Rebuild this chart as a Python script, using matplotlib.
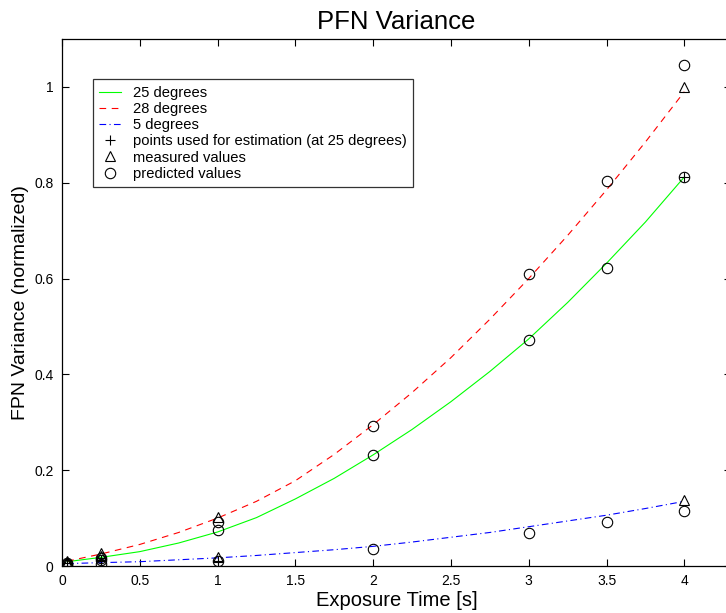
import matplotlib
matplotlib.use("Agg")
import matplotlib.pyplot as plt

plt.rcParams['font.family'] = ['Liberation Sans', 'DejaVu Sans']

# curve samples
curve_x = [0.033, 0.25, 0.5, 0.75, 1.0, 1.25, 1.5, 1.75, 2.0, 2.25, 2.5, 2.75, 3.0, 3.25, 3.5, 3.75, 4.0]
curve_25 = [0.009, 0.018, 0.030, 0.048, 0.071, 0.101, 0.140, 0.183, 0.232, 0.285, 0.343, 0.406, 0.474, 0.550, 0.632, 0.718, 0.812]
curve_28 = [0.010, 0.025, 0.045, 0.070, 0.100, 0.135, 0.178, 0.233, 0.295, 0.362, 0.435, 0.515, 0.600, 0.690, 0.785, 0.885, 0.990]
curve_5 = [0.005, 0.007, 0.009, 0.013, 0.017, 0.022, 0.028, 0.034, 0.041, 0.050, 0.060, 0.070, 0.082, 0.094, 0.106, 0.120, 0.135]

# estimation points (plus)
est_x = [0.033, 0.25, 1.0, 4.0]
est_y = [0.006, 0.012, 0.011, 0.812]

# measured values (triangles)
meas28_x = [0.033, 0.25, 1.0, 4.0]
meas28_y = [0.010, 0.027, 0.103, 1.000]
meas5_x = [0.033, 0.25, 1.0, 4.0]
meas5_y = [0.006, 0.020, 0.018, 0.138]

# predicted values (circles)
pred_x = [0.033, 0.25, 1.0, 2.0, 3.0, 3.5, 4.0]
pred28_y = [0.006, 0.016, 0.092, 0.292, 0.610, 0.804, 1.046]
pred25_y = [0.005, 0.012, 0.075, 0.232, 0.472, 0.622, 0.812]
pred5_y = [0.003, 0.004, 0.011, 0.036, 0.068, 0.091, 0.115]

x_ticks = [0, 0.5, 1, 1.5, 2, 2.5, 3, 3.5, 4]
x_tick_labels = ['0', '0.5', '1', '1.5', '2', '2.5', '3', '3.5', '4']
y_ticks = [0, 0.2, 0.4, 0.6, 0.8, 1.0]
y_tick_labels = ['0', '0.2', '0.4', '0.6', '0.8', '1']

W, H = 726, 613
fig = plt.figure(figsize=(W / 100, H / 100), dpi=100)
ax = fig.add_axes([62 / W, 47 / H, (731 - 62) / W, (566 - 39) / H])

l25, = ax.plot(curve_x, curve_25, color=(0, 1, 0), lw=0.8, ls='-')
l28, = ax.plot(curve_x, curve_28, color=(1, 0, 0), lw=0.8, ls=(0, (6, 5)))
l5, = ax.plot(curve_x, curve_5, color=(0, 0, 1), lw=0.8, ls=(0, (6, 3, 1, 3)))

mk = dict(ls='none', mfc='none', mec='black', mew=0.8, ms=7.5, color='black')
pp, = ax.plot(est_x, est_y, marker='+', **mk)
tt, = ax.plot(meas28_x, meas28_y, marker='^', **mk)
ax.plot(meas5_x, meas5_y, marker='^', **mk)
cc, = ax.plot(pred_x, pred28_y, marker='o', **mk)
ax.plot(pred_x, pred25_y, marker='o', **mk)
ax.plot(pred_x, pred5_y, marker='o', **mk)

ax.set_xlim(0, 4.3)
ax.set_ylim(0, 1.1)
ax.set_xticks(x_ticks)
ax.set_xticklabels(x_tick_labels)
ax.set_yticks(y_ticks)
ax.set_yticklabels(y_tick_labels)
ax.tick_params(direction='in', length=5, width=0.8, top=True, right=True,
               labelsize=10, pad=6, colors='black')
for s in ax.spines.values():
    s.set_linewidth(0.9)

ax.set_title('PFN Variance', fontsize=18.5, pad=7)
ax.set_xlabel('Exposure Time [s]', fontsize=14.5, labelpad=2)
ax.set_ylabel('FPN Variance (normalized)', fontsize=14, labelpad=4)

leg = ax.legend([l25, l28, l5, pp, tt, cc],
                ['25 degrees', '28 degrees', '5 degrees',
                 'points used for estimation (at 25 degrees)',
                 'measured values', 'predicted values'],
                loc='upper left', bbox_to_anchor=(0.046, 0.924),
                fontsize=10.6, frameon=True, fancybox=False, shadow=False,
                handlelength=1.5, handletextpad=0.75, labelspacing=0.15,
                borderpad=0.45, borderaxespad=0)
leg.get_frame().set_edgecolor('black')
leg.get_frame().set_linewidth(0.9)

fig.savefig('out.png', dpi=100)
